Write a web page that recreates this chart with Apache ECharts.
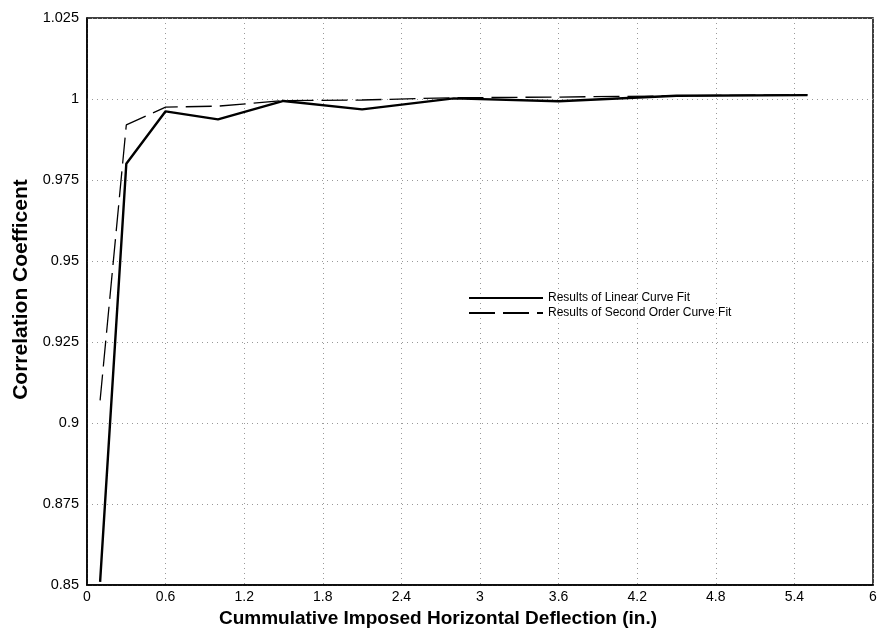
<!DOCTYPE html>
<html>
<head>
<meta charset="utf-8">
<script src="https://cdn.jsdelivr.net/npm/echarts@6/dist/echarts.min.js"></script>
<style>
html,body{margin:0;padding:0;background:#fff;}
#chart{width:883px;height:633px;}
</style>
</head>
<body>
<div id="chart"></div>
<script>
// Data
const deflection = [0.1, 0.3, 0.6, 1.0, 1.5, 2.1, 2.8, 3.6, 4.5, 5.5];
const linearFit = [0.851, 0.980, 0.9962, 0.9937, 0.9994, 0.9968, 1.0002, 0.9993, 1.0010, 1.0012];
const secondOrderFit = [0.907, 0.992, 0.9975, 0.9978, 0.9995, 0.9997, 1.0004, 1.0006, 1.0010, 1.0013];
const seriesNames = ['Results of Linear Curve Fit', 'Results of Second Order Curve Fit'];
const xTitle = 'Cummulative Imposed Horizontal Deflection (in.)';
const yTitle = 'Correlation Coefficent';

const pairs = (xs, ys) => xs.map((x, i) => [x, ys[i]]);

const chart = echarts.init(document.getElementById('chart'));
const gridLine = {show: true, lineStyle: {color: '#999', type: [1, 4], width: 1}};
chart.setOption({
  animation: false,
  backgroundColor: '#fff',
  grid: {left: 87, right: 10, top: 18, bottom: 45, containLabel: false,
         show: true, borderColor: '#000', borderWidth: 1.5},
  legend: {
    orient: 'vertical', left: 463, top: 287, itemGap: 3,
    itemWidth: 74, itemHeight: 10,
    itemStyle: {color: 'transparent', borderWidth: 0, opacity: 0},
    textStyle: {fontFamily: 'Liberation Sans, Arial', fontSize: 12, color: '#000'},
    data: seriesNames
  },
  xAxis: {
    type: 'value', min: 0, max: 6, interval: 0.6,
    name: xTitle, nameLocation: 'middle', nameGap: 22,
    nameTextStyle: {fontFamily: 'Liberation Sans, Arial', fontSize: 19, fontWeight: 'bold', color: '#000',
                    padding: [0, 84, 0, 0]},
    axisLine: {show: true, lineStyle: {color: '#000', width: 1.5}},
    axisTick: {show: false},
    axisLabel: {color: '#000', fontFamily: 'Liberation Sans, Arial', fontSize: 14, margin: 5,
                formatter: v => String(+v.toFixed(1))},
    splitLine: gridLine
  },
  yAxis: {
    type: 'value', min: 0.85, max: 1.025, interval: 0.025,
    name: yTitle, nameLocation: 'middle', nameGap: 55,
    nameTextStyle: {fontFamily: 'Liberation Sans, Arial', fontSize: 21, fontWeight: 'bold', color: '#000',
                    padding: [0, 0, 0, 24]},
    axisLine: {show: true, lineStyle: {color: '#000', width: 1.5}},
    axisTick: {show: false},
    axisLabel: {color: '#000', fontFamily: 'Liberation Sans, Arial', fontSize: 14.5, margin: 8,
                formatter: v => String(+v.toFixed(3))},
    splitLine: gridLine
  },
  series: [
    {name: seriesNames[0], type: 'line', data: pairs(deflection, linearFit),
     symbol: 'none', lineStyle: {color: '#000', width: 2.4, type: 'solid'}, itemStyle: {color: '#000'}},
    {name: seriesNames[1], type: 'line', data: pairs(deflection, secondOrderFit),
     symbol: 'none', lineStyle: {color: '#000', width: 1.3, type: [26, 8]}, itemStyle: {color: '#000'}}
  ]
});
</script>
</body>
</html>
